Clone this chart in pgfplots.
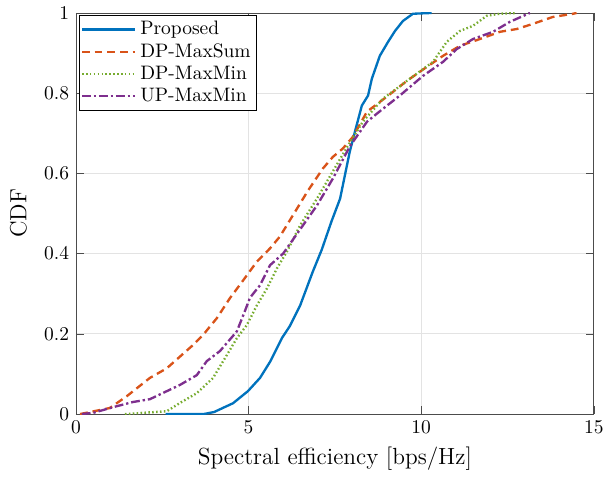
\documentclass[border=0pt]{standalone}
\usepackage{pgfplots}
\pgfplotsset{compat=1.18}
\definecolor{mblue}{RGB}{0,114,189}
\definecolor{morange}{RGB}{217,83,25}
\definecolor{mgreen}{RGB}{119,172,48}
\definecolor{mpurple}{RGB}{126,47,142}

\begin{document}
\begin{tikzpicture}
\begin{axis}[
  scale only axis,
  width=266pt,
  height=206pt,
  xmin=0, xmax=15,
  ymin=0, ymax=1,
  xtick={0,5,10,15},
  ytick={0,0.2,0.4,0.6,0.8,1},
  yticklabels={0,0.2,0.4,0.6,0.8,1},
  xlabel={Spectral efficiency [bps/Hz]},
  ylabel={CDF},
  label style={font=\large},
  tick label style={font=\normalsize},
  ylabel style={yshift=2pt},
  grid=major,
  grid style={gray!22},
  axis line style={black!70},
  tick style={black!70},
  tick align=inside,
  legend style={
    at={(0.005,0.995)}, anchor=north west,
    draw=black, fill=white, font=\normalsize,
    inner sep=1pt, row sep=-1pt,
  },
  legend cell align=left,
  legend image post style={xscale=1.6},
]
\addplot[color=mblue, line width=1.2pt] coordinates {
  (2.6,0) (3.7,0) (4.0,0.005) (4.55,0.027) (4.98,0.057) (5.33,0.09)
  (5.62,0.13) (5.97,0.19) (6.2,0.22) (6.49,0.27) (6.86,0.355) (7.12,0.41)
  (7.4,0.48) (7.65,0.537) (7.93,0.654) (8.08,0.704) (8.28,0.769) (8.46,0.794)
  (8.57,0.836) (8.80,0.893) (9.04,0.928) (9.24,0.955) (9.47,0.98) (9.76,0.998)
  (10.3,1)
};
\addlegendentry{Proposed}
\addplot[color=morange, line width=1.2pt, dash pattern=on 4pt off 2.5pt] coordinates {
  (0.12,0) (0.98,0.015) (1.48,0.045) (2.14,0.09) (2.63,0.114) (3.39,0.172)
  (3.68,0.197) (4.08,0.239) (4.46,0.289) (4.84,0.333) (5.24,0.38) (5.62,0.413)
  (5.91,0.443) (6.28,0.495) (6.72,0.557) (7.15,0.612) (7.44,0.641) (7.73,0.662)
  (8.02,0.691) (8.43,0.754) (9.0,0.791) (9.59,0.831) (10.17,0.866) (10.63,0.893)
  (11.12,0.918) (11.7,0.935) (12.28,0.953) (12.77,0.96) (13.24,0.973)
  (13.81,0.99) (14.4,0.998) (14.5,1)
};
\addlegendentry{DP-MaxSum}
\addplot[color=mgreen, line width=1.2pt, dash pattern=on 0.8pt off 1.2pt] coordinates {
  (1.42,0) (2.63,0.007) (3.0,0.027) (3.5,0.052) (3.97,0.09) (4.37,0.147)
  (4.66,0.189) (4.95,0.222) (5.24,0.271) (5.53,0.313) (5.82,0.363) (6.11,0.405)
  (6.49,0.47) (6.98,0.537) (7.44,0.605) (7.85,0.665) (8.31,0.729) (8.89,0.786)
  (9.67,0.836) (10.34,0.878) (10.74,0.928) (11.12,0.955) (11.5,0.968)
  (11.9,0.993) (12.28,0.998) (12.77,1)
};
\addlegendentry{DP-MaxMin}
\addplot[color=mpurple, line width=1.2pt, dash pattern=on 4.5pt off 1.5pt on 1.2pt off 1.5pt] coordinates {
  (0.17,0) (0.5,0.003) (1.07,0.017) (1.65,0.03) (2.14,0.037) (2.63,0.057)
  (3.0,0.072) (3.5,0.097) (3.79,0.132) (4.17,0.157) (4.66,0.206) (4.89,0.256)
  (5.04,0.29) (5.33,0.321) (5.62,0.371) (6.0,0.4) (6.49,0.46) (6.98,0.52)
  (7.44,0.587) (7.93,0.667) (8.43,0.729) (8.89,0.761) (9.38,0.794)
  (10.05,0.843) (10.63,0.878) (11.03,0.91) (11.5,0.935) (12.08,0.953)
  (12.57,0.978) (13.15,1)
};
\addlegendentry{UP-MaxMin}
\end{axis}
\path ([xshift=-1.8pt]current bounding box.west) ([xshift=1.5pt]current bounding box.east);
\end{tikzpicture}
\end{document}
